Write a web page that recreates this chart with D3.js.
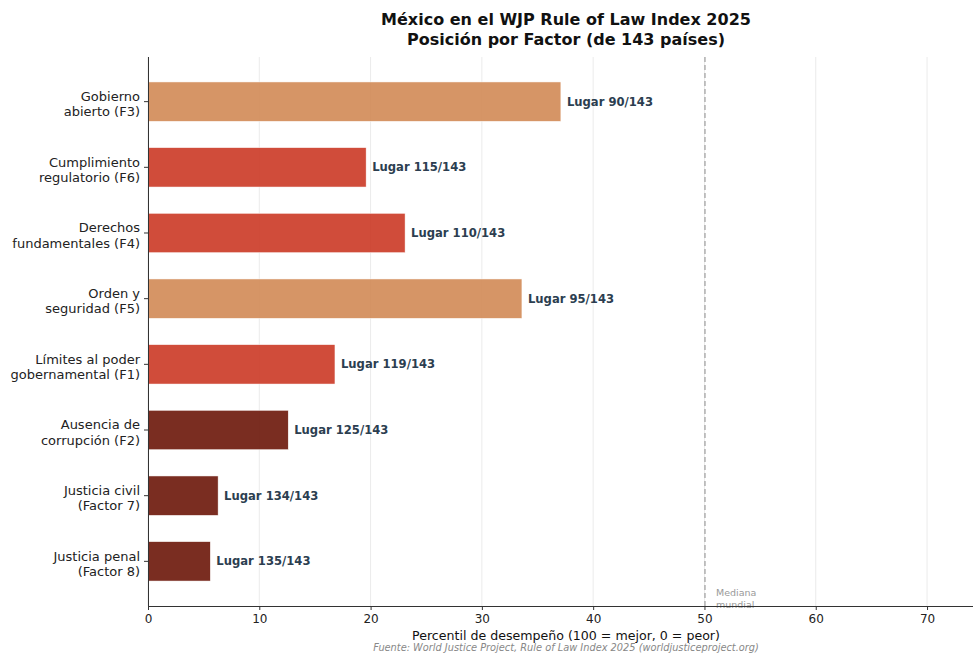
<!DOCTYPE html>
<html><head><meta charset="utf-8">
<script src="https://cdn.jsdelivr.net/npm/d3@7"></script>
<style>body{margin:0;background:#fff;}svg{font-family:"DejaVu Sans",sans-serif;}</style>
</head><body><svg id="c" width="973" height="655"></svg>
<script>
const categories = ["Gobierno\nabierto (F3)","Cumplimiento\nregulatorio (F6)","Derechos\nfundamentales (F4)","Orden y\nseguridad (F5)","Límites al poder\ngobernamental (F1)","Ausencia de\ncorrupción (F2)","Justicia civil\n(Factor 7)","Justicia penal\n(Factor 8)"];
const percentiles = [37.1, 19.6, 23.1, 33.6, 16.8, 12.6, 6.3, 5.6];
const rankLabels = ["Lugar 90/143","Lugar 115/143","Lugar 110/143","Lugar 95/143","Lugar 119/143","Lugar 125/143","Lugar 134/143","Lugar 135/143"];
const colorGroups = ["mid","low","low","mid","low","vlow","vlow","vlow"];
const xTicks = [0,10,20,30,40,50,60,70];
const medianValue = 50;
const colors = {mid:"#D28A55", low:"#CB3925", vlow:"#6C1609"};

const svg = d3.select("#c");
const L = 148, R = 973, T = 57, B = 606;
const x = d3.scaleLinear().domain([0, 74.13]).range([L, R]);
const n = categories.length;
const y = d3.scaleLinear().domain([-0.68, n - 1 + 0.68]).range([B, T]);
const posOf = i => n - 1 - i;
const barH = (y(0) - y(0.6));

svg.append("g").selectAll("line").data(xTicks).join("line")
  .attr("x1", d => x(d)).attr("x2", d => x(d)).attr("y1", T).attr("y2", B)
  .attr("stroke", "#ebebeb").attr("stroke-width", 1);

svg.append("g").selectAll("rect").data(percentiles).join("rect")
  .attr("x", x(0)).attr("y", (d, i) => y(posOf(i) + 0.3))
  .attr("width", d => x(d) - x(0)).attr("height", barH)
  .attr("fill", (d, i) => colors[colorGroups[i]]).attr("fill-opacity", 0.9)
  .attr("stroke", "#fff").attr("stroke-width", 0.5);

svg.append("line").attr("x1", x(medianValue) + 0.5).attr("x2", x(medianValue) + 0.5)
  .attr("y1", T).attr("y2", B).attr("stroke", "#b0b0b0").attr("stroke-width", 1.5)
  .attr("stroke-dasharray", "5,3");
svg.append("text").attr("x", x(medianValue) + 11.5).attr("y", 596)
  .attr("font-size", 9.5).attr("fill", "#999").text("Mediana");
svg.append("text").attr("x", x(medianValue) + 11.5).attr("y", 608)
  .attr("font-size", 9.5).attr("fill", "#999").text("mundial");

svg.append("g").selectAll("text").data(percentiles).join("text")
  .attr("x", d => x(d) + 6).attr("y", (d, i) => y(posOf(i)))
  .attr("dy", "0.35em").attr("font-size", 11.6).attr("font-weight", "bold")
  .attr("fill", "#2C3E50").text((d, i) => rankLabels[i]);

const xAxis = svg.append("g").attr("transform", `translate(0,${B})`)
  .call(d3.axisBottom(x).tickValues(xTicks).tickSize(4).tickPadding(4).tickSizeOuter(0));
xAxis.select(".domain").attr("stroke", "#333").attr("d", `M${L},0.5H${R}`);
xAxis.selectAll("text").attr("font-size", 12).attr("fill", "#222").attr("font-family", "DejaVu Sans");
xAxis.selectAll(".tick line").attr("stroke", "#333");

svg.append("line").attr("x1", L + 0.5).attr("x2", L + 0.5).attr("y1", T).attr("y2", B)
  .attr("stroke", "#333");
const yt = svg.append("g");
categories.forEach((c, i) => {
  const cy = y(posOf(i));
  yt.append("line").attr("x1", L - 4).attr("x2", L).attr("y1", cy).attr("y2", cy).attr("stroke", "#333");
  const lines = c.split("\n");
  const t = yt.append("text").attr("x", L - 8).attr("text-anchor", "end")
    .attr("font-size", 13).attr("fill", "#222");
  lines.forEach((ln, k) => {
    t.append("tspan").attr("x", L - 8).attr("y", cy + (k - (lines.length - 1) / 2) * 15.5 + 7).text(ln);
  });
});

svg.append("text").attr("x", 566).attr("y", 25).attr("text-anchor", "middle")
  .attr("font-size", 16).attr("font-weight", "bold").attr("fill", "#111")
  .text("México en el WJP Rule of Law Index 2025");
svg.append("text").attr("x", 566).attr("y", 45).attr("text-anchor", "middle")
  .attr("font-size", 16).attr("font-weight", "bold").attr("fill", "#111")
  .text("Posición por Factor (de 143 países)");
svg.append("text").attr("x", 566).attr("y", 640).attr("text-anchor", "middle")
  .attr("font-size", 12.6).attr("fill", "#111")
  .text("Percentil de desempeño (100 = mejor, 0 = peor)");
svg.append("text").attr("x", 566).attr("y", 651).attr("text-anchor", "middle")
  .attr("font-size", 9.8).attr("font-style", "italic").attr("fill", "#888")
  .text("Fuente: World Justice Project, Rule of Law Index 2025 (worldjusticeproject.org)");
</script></body></html>
